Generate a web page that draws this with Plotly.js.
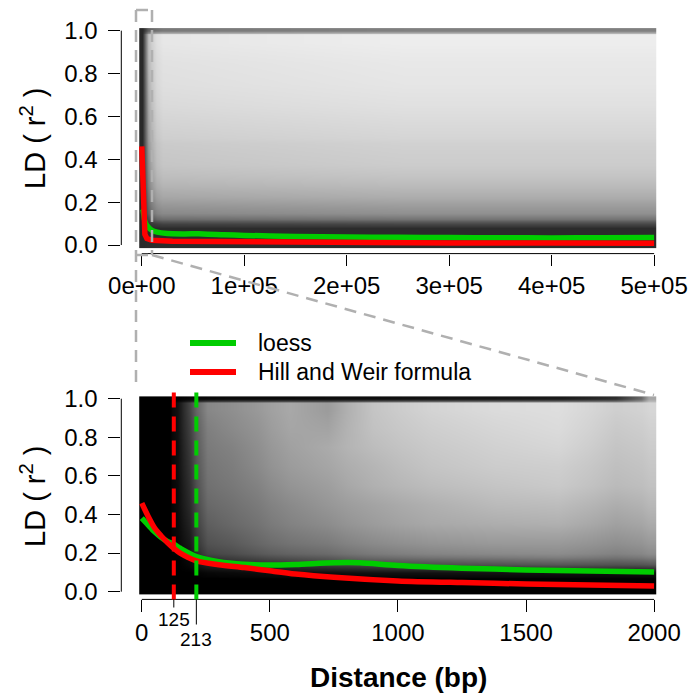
<!DOCTYPE html>
<html><head><meta charset="utf-8">
<script src="https://cdn.plot.ly/plotly-3.0.1.min.js"></script>
<style>html,body{margin:0;padding:0;background:#fff}#chart{width:692px;height:698px}</style>
</head><body><div id="chart"></div>
<script>
// ---------------- data ----------------
const topXTicks = [0, 100000, 200000, 300000, 400000, 500000];
const topXTickText = ['0e+00', '1e+05', '2e+05', '3e+05', '4e+05', '5e+05'];
const yTicks = [0, 0.2, 0.4, 0.6, 0.8, 1.0];
const yTickText = ['0.0', '0.2', '0.4', '0.6', '0.8', '1.0'];
const botXTicks = [0, 500, 1000, 1500, 2000];
const botXTickText = ['0', '500', '1000', '1500', '2000'];
const hwDecayDist = 125;      // red dashed line
const loessDecayDist = 213;   // green dashed line
const legendLabels = ['loess', 'Hill and Weir formula'];

// top panel curves (0 - 500 kb)
const topLoessX = [0, 1000, 2000, 3000, 6000, 10000, 15000, 25000, 40000, 60000, 80000, 100000, 150000, 200000, 250000, 300000, 350000, 400000, 450000, 500000];
const topLoessY = [0.17, 0.165, 0.14, 0.11, 0.085, 0.068, 0.06, 0.054, 0.052, 0.052, 0.048, 0.045, 0.04, 0.037, 0.036, 0.035, 0.034, 0.033, 0.034, 0.035];
const topHWX = [0, 500, 1000, 2000, 3000, 5000, 10000, 30000, 100000, 200000, 300000, 400000, 500000];
const topHWY = [0.46, 0.35, 0.25, 0.1, 0.05, 0.03, 0.022, 0.018, 0.015, 0.012, 0.01, 0.009, 0.008];

// bottom panel curves (0 - 2000 bp)
const botLoessX = [0, 25, 50, 75, 100, 125, 150, 213, 300, 400, 500, 600, 750, 850, 1000, 1250, 1500, 1750, 2000];
const botLoessY = [0.381, 0.345, 0.31, 0.282, 0.26, 0.246, 0.225, 0.182, 0.155, 0.142, 0.138, 0.141, 0.15, 0.15, 0.136, 0.122, 0.113, 0.107, 0.102];
const botHWX = [0, 25, 50, 75, 100, 125, 150, 213, 300, 400, 500, 600, 750, 1000, 1250, 1500, 1750, 2000];
const botHWY = [0.459, 0.39, 0.33, 0.29, 0.255, 0.225, 0.2, 0.16, 0.14, 0.125, 0.108, 0.092, 0.075, 0.056, 0.047, 0.04, 0.034, 0.03];

// darkness of the point cloud (0 = white, 1 = black), read region by region
const topCloudXEdges = [-2500, 3500, 9000, 20000, 490000, 502500];
const topCloudYEdges = [-0.012, 0.07, 0.09, 0.11, 0.13, 0.15, 0.2, 0.25, 0.3, 0.35, 0.4, 0.45, 0.5, 0.6, 0.7, 0.8, 0.9, 0.982, 0.988, 1.012];
const topCloudDark = [
  [0.84, 0.83, 0.83, 0.83, 0.83],
  [0.84, 0.83, 0.83, 0.83, 0.83],
  [0.84, 0.80, 0.76, 0.72, 0.72],
  [0.84, 0.72, 0.60, 0.55, 0.55],
  [0.84, 0.66, 0.52, 0.47, 0.47],
  [0.84, 0.60, 0.45, 0.40, 0.40],
  [0.84, 0.55, 0.37, 0.32, 0.32],
  [0.84, 0.50, 0.32, 0.27, 0.27],
  [0.84, 0.47, 0.28, 0.23, 0.23],
  [0.84, 0.44, 0.25, 0.20, 0.20],
  [0.84, 0.42, 0.24, 0.19, 0.19],
  [0.84, 0.40, 0.23, 0.18, 0.18],
  [0.84, 0.37, 0.20, 0.15, 0.15],
  [0.84, 0.34, 0.17, 0.12, 0.12],
  [0.84, 0.31, 0.15, 0.10, 0.10],
  [0.84, 0.28, 0.14, 0.09, 0.09],
  [0.84, 0.26, 0.12, 0.07, 0.07],
  [0.84, 0.26, 0.12, 0.07, 0.07],
  [0.84, 0.62, 0.55, 0.50, 0.50]
];
const botCloudXEdges = [-10, 100, 120, 160, 213, 300, 400, 500, 650, 800, 1000, 1250, 1500, 1750, 1950, 2010];
const botCloudYEdges = [-0.012, 0.06, 0.08, 0.12, 0.16, 0.2, 0.3, 0.4, 0.5, 0.6, 0.7, 0.8, 0.9, 0.982, 0.988, 1.012];
const botCloudDark = [
  [1, 1, 1, 1, 1, 1, 1, 1, 1, 1, 1, 1, 1, 1, 1],
  [1, 1, 1, 1, 1, 1, 1, 1, 1, 1, 1, 1, 1, 1, 1],
  [1, 1, 1, 1, 0.97, 0.96, 0.95, 0.94, 0.94, 0.93, 0.93, 0.93, 0.93, 0.94, 0.94],
  [1, 1, 1, 0.97, 0.87, 0.84, 0.82, 0.79, 0.75, 0.72, 0.7, 0.68, 0.66, 0.68, 0.66],
  [1, 1, 1, 0.95, 0.78, 0.75, 0.71, 0.67, 0.64, 0.58, 0.54, 0.52, 0.5, 0.54, 0.5],
  [1, 1, 0.97, 0.9, 0.68, 0.65, 0.6, 0.55, 0.52, 0.46, 0.42, 0.4, 0.4, 0.44, 0.4],
  [1, 1, 0.96, 0.86, 0.63, 0.59, 0.55, 0.49, 0.45, 0.39, 0.34, 0.32, 0.31, 0.37, 0.33],
  [1, 1, 0.95, 0.83, 0.59, 0.56, 0.52, 0.46, 0.41, 0.36, 0.31, 0.27, 0.26, 0.32, 0.28],
  [1, 1, 0.95, 0.81, 0.56, 0.53, 0.49, 0.42, 0.38, 0.31, 0.26, 0.23, 0.21, 0.27, 0.24],
  [1, 1, 0.94, 0.79, 0.54, 0.51, 0.46, 0.39, 0.35, 0.29, 0.23, 0.2, 0.19, 0.25, 0.22],
  [1, 1, 0.94, 0.77, 0.52, 0.49, 0.44, 0.37, 0.33, 0.26, 0.21, 0.18, 0.16, 0.23, 0.2],
  [1, 1, 0.93, 0.75, 0.5, 0.46, 0.42, 0.35, 0.36, 0.24, 0.19, 0.16, 0.14, 0.21, 0.18],
  [1, 1, 0.93, 0.73, 0.47, 0.44, 0.4, 0.34, 0.39, 0.23, 0.17, 0.14, 0.13, 0.19, 0.16],
  [1, 1, 0.93, 0.73, 0.47, 0.44, 0.4, 0.34, 0.39, 0.23, 0.17, 0.14, 0.13, 0.19, 0.16],
  [1, 1, 1, 0.98, 0.97, 0.96, 0.96, 0.96, 0.95, 0.95, 0.93, 0.92, 0.9, 0.82, 0.35]
];

// ---------------- drawing ----------------
const W = 692, H = 698;
const fx = v => v / W;          // pixel -> paper x
const fy = v => 1 - v / H;      // pixel -> paper y
const FONT = 'Liberation Sans, Arial, Helvetica, sans-serif';
const GREEN = '#00cd00', RED = '#ff0000', GREY = '#b0b0b0';
const grayScale = [[0, '#ffffff'], [1, '#000000']];

const traces = [
  {type: 'heatmap', x: topCloudXEdges, y: topCloudYEdges, z: topCloudDark, xaxis: 'x', yaxis: 'y',
   colorscale: grayScale, zmin: 0, zmax: 1, zsmooth: 'best', showscale: false, hoverinfo: 'skip'},
  {type: 'heatmap', x: botCloudXEdges, y: botCloudYEdges, z: botCloudDark, xaxis: 'x2', yaxis: 'y2',
   colorscale: grayScale, zmin: 0, zmax: 1, zsmooth: 'best', showscale: false, hoverinfo: 'skip'},
  {type: 'scatter', mode: 'lines', x: topLoessX, y: topLoessY, xaxis: 'x', yaxis: 'y',
   line: {color: GREEN, width: 5.5, shape: 'spline', smoothing: 0.6}, name: legendLabels[0]},
  {type: 'scatter', mode: 'lines', x: topHWX, y: topHWY, xaxis: 'x', yaxis: 'y',
   line: {color: RED, width: 5.5}, name: legendLabels[1]},
  {type: 'scatter', mode: 'lines', x: botLoessX, y: botLoessY, xaxis: 'x2', yaxis: 'y2',
   line: {color: GREEN, width: 5.5, shape: 'spline', smoothing: 0.8}, name: legendLabels[0]},
  {type: 'scatter', mode: 'lines', x: botHWX, y: botHWY, xaxis: 'x2', yaxis: 'y2',
   line: {color: RED, width: 5.5, shape: 'spline', smoothing: 0.8}, name: legendLabels[1]}
];

const tickFont = {family: FONT, size: 24, color: '#000'};
const axBase = {ticks: 'outside', tickwidth: 1, tickcolor: '#000', showgrid: false, zeroline: false,
  showline: false, tickfont: tickFont, fixedrange: true, tickmode: 'array'};

const xDom = [fx(121.3), fx(674.6)];
const layout = {
  width: W, height: H, margin: {l: 0, r: 0, t: 0, b: 0, pad: 0}, showlegend: false,
  paper_bgcolor: '#fff', plot_bgcolor: 'rgba(0,0,0,0)',
  xaxis: Object.assign({}, axBase, {domain: xDom, range: [-20000, 520000], anchor: 'y',
    tickvals: topXTicks, ticktext: topXTickText, ticklen: 11}),
  yaxis: Object.assign({}, axBase, {domain: [fy(253.6), fy(22.1)], range: [-0.04, 1.04], anchor: 'x',
    tickvals: yTicks, ticktext: yTickText, ticklen: 12, ticklabelstandoff: 6}),
  xaxis2: Object.assign({}, axBase, {domain: xDom, range: [-80, 2080], anchor: 'y2',
    tickvals: botXTicks, ticktext: botXTickText, ticklen: 12}),
  yaxis2: Object.assign({}, axBase, {domain: [fy(599.4), fy(391)], range: [-0.04, 1.04], anchor: 'x2',
    tickvals: yTicks, ticktext: yTickText, ticklen: 12, ticklabelstandoff: 6}),
  shapes: [],
  annotations: []
};

const S = layout.shapes, A = layout.annotations;
// axis lines spanning first to last tick (R style)
S.push({type: 'line', xref: 'x', yref: 'y domain', x0: topXTicks[0], x1: topXTicks[topXTicks.length - 1], y0: 0, y1: 0, line: {color: '#000', width: 1}});
S.push({type: 'line', xref: 'x domain', yref: 'y', x0: 0, x1: 0, y0: yTicks[0], y1: yTicks[yTicks.length - 1], line: {color: '#000', width: 1}});
S.push({type: 'line', xref: 'x2', yref: 'y2 domain', x0: botXTicks[0], x1: botXTicks[botXTicks.length - 1], y0: 0, y1: 0, line: {color: '#000', width: 1}});
S.push({type: 'line', xref: 'x2 domain', yref: 'y2', x0: 0, x1: 0, y0: yTicks[0], y1: yTicks[yTicks.length - 1], line: {color: '#000', width: 1}});

// half-decay distances: dashed verticals + extra ticks + labels
S.push({type: 'line', xref: 'x2', yref: 'y2 domain', x0: hwDecayDist, x1: hwDecayDist, y0: 0, y1: 1, line: {color: RED, width: 4, dash: '15px,9px'}});
S.push({type: 'line', xref: 'x2', yref: 'y2 domain', x0: loessDecayDist, x1: loessDecayDist, y0: 0, y1: 1, line: {color: GREEN, width: 4, dash: '15px,9px'}});
S.push({type: 'line', xref: 'x2', yref: 'paper', x0: hwDecayDist, x1: hwDecayDist, y0: fy(599.4), y1: fy(607.5), line: {color: '#000', width: 1}});
S.push({type: 'line', xref: 'x2', yref: 'paper', x0: loessDecayDist, x1: loessDecayDist, y0: fy(599.4), y1: fy(624.5), line: {color: '#000', width: 1}});
A.push({xref: 'x2', yref: 'paper', x: hwDecayDist, y: fy(619), text: String(hwDecayDist), showarrow: false,
  xanchor: 'center', yanchor: 'middle', font: {family: FONT, size: 19, color: '#000'}});
A.push({xref: 'x2', yref: 'paper', x: loessDecayDist, y: fy(639), text: String(loessDecayDist), showarrow: false,
  xanchor: 'center', yanchor: 'middle', font: {family: FONT, size: 19, color: '#000'}});

// zoom indicator (grey dashed)
const gl = {color: GREY, width: 2.5, dash: '12px,8px'};
const zoomLines = [
  [136, 10, 152, 10], [152, 10, 152, 255], [136, 255, 152, 255], [136, 10, 136, 389], [152, 255, 654, 395]
];
zoomLines.forEach(p => S.push({type: 'line', xref: 'paper', yref: 'paper', x0: fx(p[0]), y0: fy(p[1]), x1: fx(p[2]), y1: fy(p[3]), line: gl}));

// legend
S.push({type: 'line', xref: 'paper', yref: 'paper', x0: fx(190), x1: fx(236), y0: fy(343), y1: fy(343), line: {color: GREEN, width: 6}});
S.push({type: 'line', xref: 'paper', yref: 'paper', x0: fx(190), x1: fx(236), y0: fy(372), y1: fy(372), line: {color: RED, width: 6}});
A.push({xref: 'paper', yref: 'paper', x: fx(256), y: fy(343), text: legendLabels[0], showarrow: false,
  xanchor: 'left', yanchor: 'middle', font: {family: FONT, size: 23, color: '#000'}});
A.push({xref: 'paper', yref: 'paper', x: fx(256), y: fy(372), text: legendLabels[1], showarrow: false,
  xanchor: 'left', yanchor: 'middle', font: {family: FONT, size: 23, color: '#000'}});

// axis titles
const yTitle = 'LD ( r<sup>2</sup> )';
A.push({xref: 'paper', yref: 'paper', x: fx(33), y: fy(138), text: yTitle, textangle: -90, showarrow: false,
  xanchor: 'center', yanchor: 'middle', font: {family: FONT, size: 29, color: '#000'}});
A.push({xref: 'paper', yref: 'paper', x: fx(33), y: fy(496), text: yTitle, textangle: -90, showarrow: false,
  xanchor: 'center', yanchor: 'middle', font: {family: FONT, size: 29, color: '#000'}});
A.push({xref: 'paper', yref: 'paper', x: fx(398), y: fy(677), text: '<b>Distance (bp)</b>', showarrow: false,
  xanchor: 'center', yanchor: 'middle', font: {family: FONT, size: 28, color: '#000'}});

Plotly.newPlot('chart', traces, layout, {displayModeBar: false, staticPlot: true}).then(gd => {
  // drop the empty placeholder axis-title nodes (titles are drawn as annotations)
  gd.querySelectorAll('.g-xtitle, .g-ytitle, .g-x2title, .g-y2title').forEach(n => n.remove());
});
</script>
</body></html>
